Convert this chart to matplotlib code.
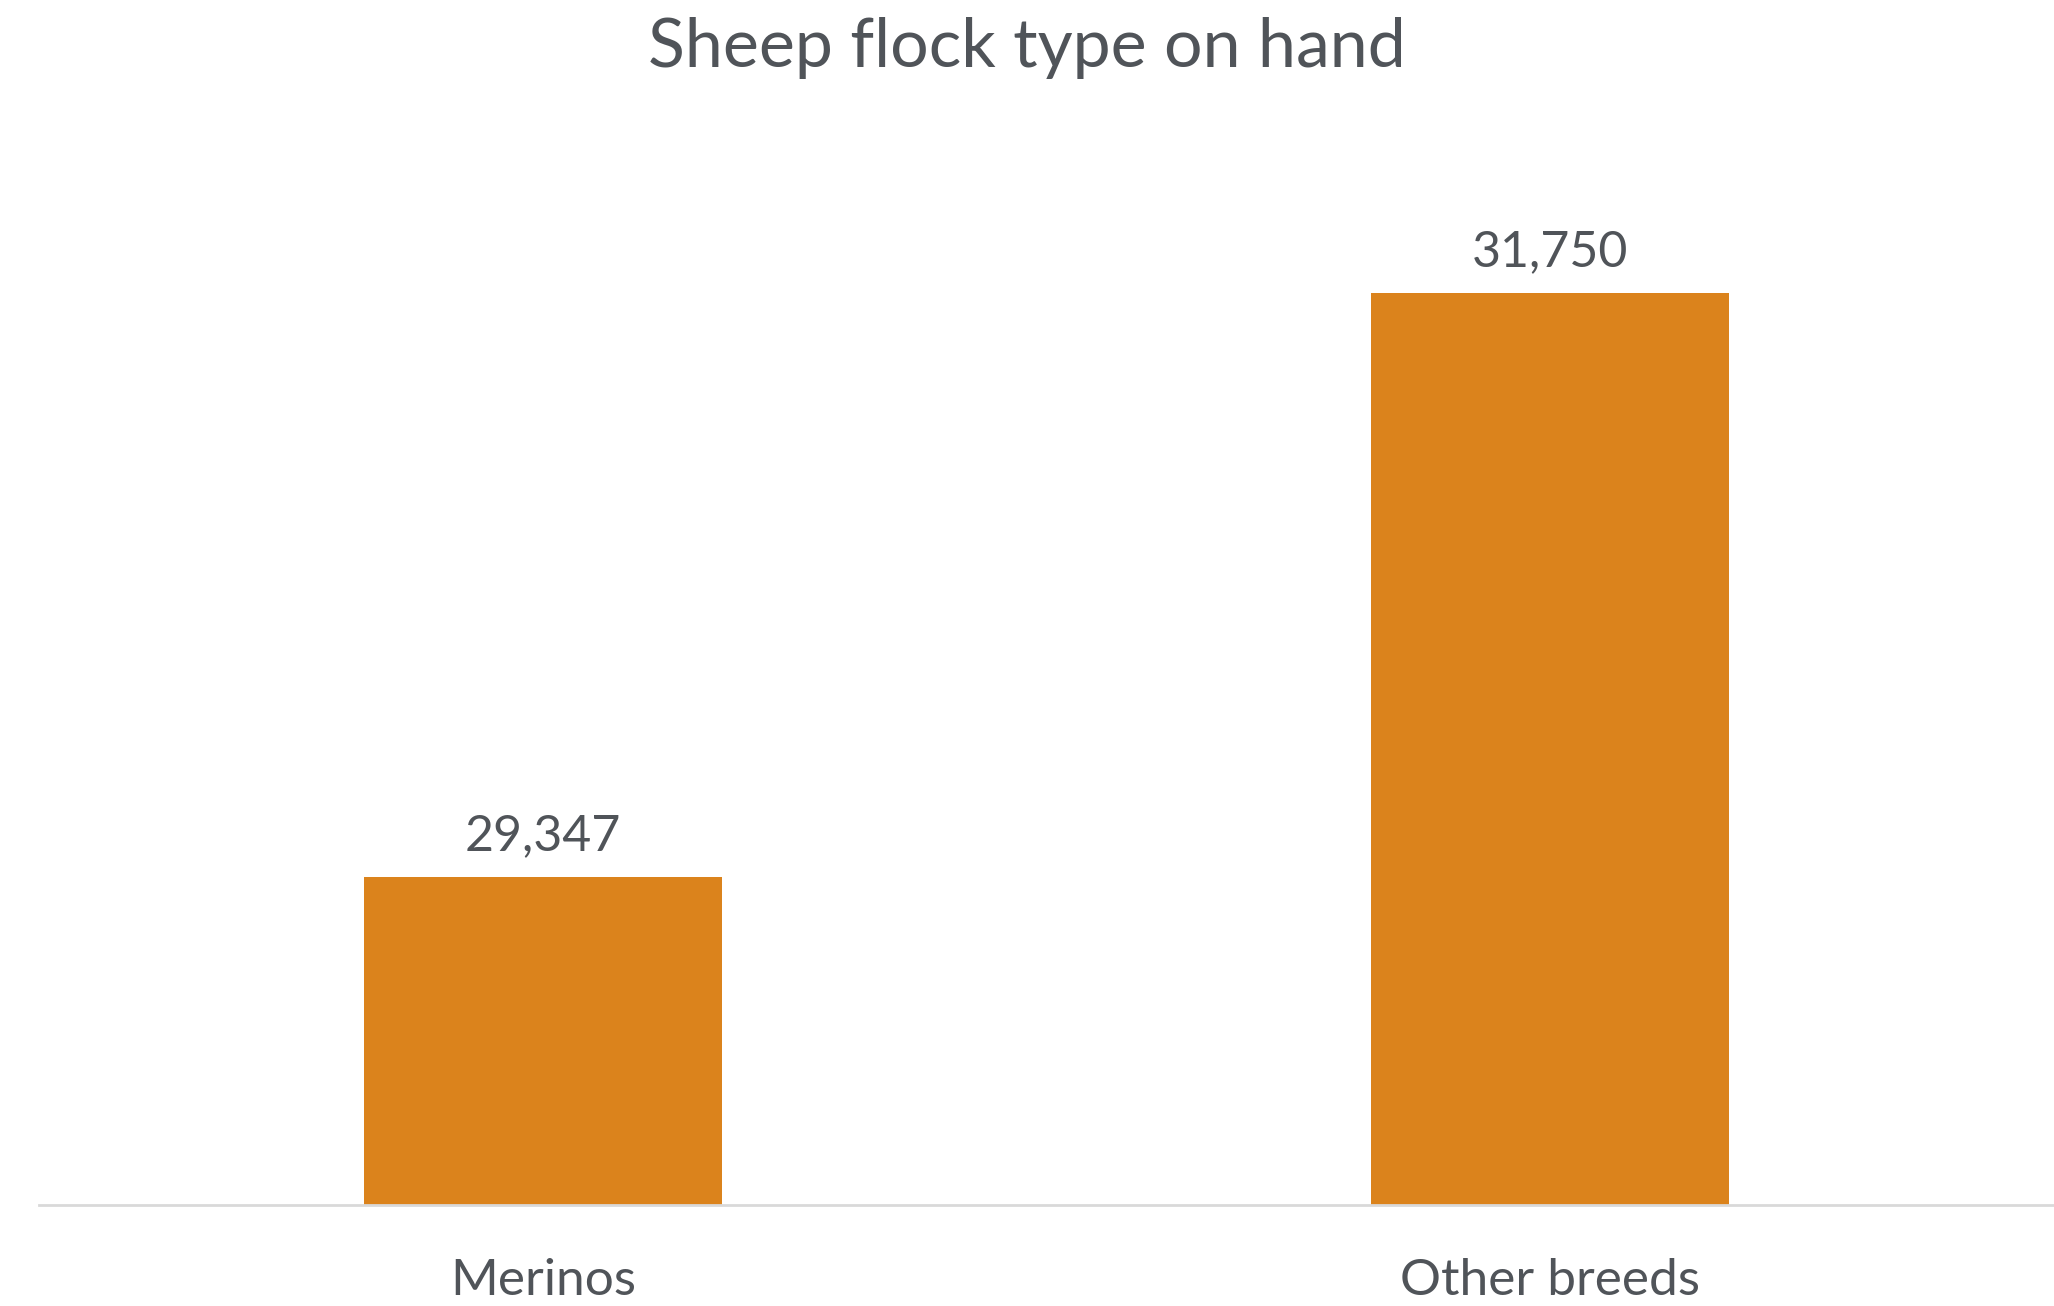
import matplotlib
matplotlib.use("Agg")
import matplotlib.pyplot as plt

categories = ["Merinos", "Other breeds"]
values = [29347, 31750]
title = "Sheep flock type on hand"

bar_color = "#DB831C"
text_color = "#505459"

plt.rcParams['font.family'] = ['Lato', 'DejaVu Sans']

fig = plt.figure(figsize=(20.54, 13.06), dpi=100)
ax = fig.add_axes([0.019, 0.0773, 0.981, 0.7451])

x = range(len(categories))
bars = ax.bar(x, values, width=0.355, color=bar_color, zorder=2)
ax.set_xlim(-0.5, len(categories) - 0.5)
ax.set_ylim(28000, 32000)

for rect, v in zip(bars, values):
    ax.annotate(f"{v:,}", (rect.get_x() + rect.get_width() / 2, v),
                xytext=(0, 13), textcoords="offset points",
                ha="center", va="bottom", fontsize=36, color=text_color)

ax.set_xticks(list(x))
ax.set_xticklabels(categories, fontsize=37, color=text_color)
ax.tick_params(axis="x", length=0, pad=38)
ax.set_yticks([])
for s in ["top", "right", "left"]:
    ax.spines[s].set_visible(False)
ax.spines["bottom"].set_color("#D9D9D9")
ax.spines["bottom"].set_linewidth(2)

fig.text(0.5, 1 - 48 / 1306, title, ha="center", va="center",
         fontsize=49, color=text_color)

fig.savefig("out.png", dpi=100, facecolor="white")
